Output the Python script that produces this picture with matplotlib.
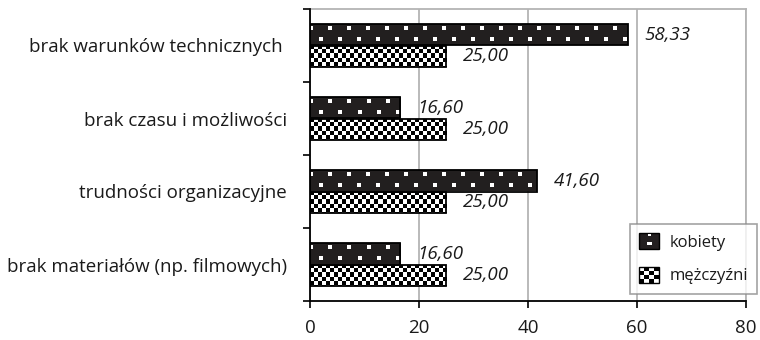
import numpy as np
import matplotlib
matplotlib.use("Agg")
import matplotlib.pyplot as plt
from matplotlib.patches import Rectangle
from matplotlib.legend_handler import HandlerBase

plt.rcParams['font.family'] = ['Open Sans', 'DejaVu Sans']

# survey answers, percent of respondents
categories = [
    "brak warunków technicznych ",
    "brak czasu i możliwości",
    "trudności organizacyjne",
    "brak materiałów (np. filmowych)",
]
kobiety = [58.33, 16.60, 41.60, 16.60]
mezczyzni = [25.00, 25.00, 25.00, 25.00]
series_names = ["kobiety", "mężczyźni"]
x_ticks = [0, 20, 40, 60, 80]

DARK = (0.137, 0.122, 0.125)
BAR_H = 0.29

fig = plt.figure(figsize=(7.6, 3.4), dpi=100)
ax = fig.add_axes([310 / 760, 1 - 301 / 340, 436 / 760, 292 / 340])
ax.set_xlim(0, 80)
ax.set_ylim(len(categories) - 0.5, -0.5)

px_x = ax.bbox.width / 80
px_y = ax.bbox.height / len(categories)


def dots_texture(h, w):
    img = np.empty((h, w, 3))
    img[:] = DARK
    for x in range(-1, w, 19):
        img[3:7, max(x, 0):max(x + 4, 0)] = 1.0
    for x in range(9, w, 19):
        img[13:17, x:x + 4] = 1.0
    return img


def checker_texture(h, w, cell=4):
    yy, xx = np.mgrid[0:h, 0:w]
    on = ((yy // cell + xx // cell) % 2) == 0
    img = np.ones((h, w, 3))
    img[on] = 0.0
    return img


def textured_bar(y0, y1, val, texture):
    rect = ax.barh((y0 + y1) / 2, val, height=y1 - y0, color='none',
                   edgecolor='black', linewidth=1.3, zorder=4)[0]
    h_px = max(int(round((y1 - y0) * px_y)), 1)
    w_px = max(int(round(val * px_x)), 1)
    im = ax.imshow(texture(h_px, w_px), extent=(0, val, y1, y0),
                   interpolation='nearest', aspect='auto', zorder=3)
    im.set_clip_path(rect)
    return rect


for i, (k, m) in enumerate(zip(kobiety, mezczyzni)):
    textured_bar(i - BAR_H, i, k, dots_texture)
    textured_bar(i, i + BAR_H, m, checker_texture)

    for val, yc in ((k, i - BAR_H / 2), (m, i + BAR_H / 2)):
        ax.annotate(f"{val:.2f}".replace('.', ','), (val, yc),
                    xytext=(12, 0), textcoords='offset points',
                    va='center', ha='left', fontsize=13.5,
                    style='italic', color='#1a1a1a', zorder=5)

ax.set_xlim(0, 80)
ax.set_ylim(len(categories) - 0.5, -0.5)

# category boundaries get the visible ticks, names sit between them
ax.set_yticks(np.arange(-0.5, len(categories), 1.0))
ax.set_yticklabels([])
ax.set_yticks(range(len(categories)), minor=True)
ax.set_yticklabels(categories, minor=True, fontsize=13.5, color='#1a1a1a')
ax.tick_params(axis='y', which='major', direction='out', length=5, width=1.2)
ax.tick_params(axis='y', which='minor', length=0, pad=16.5)

ax.set_xticks(x_ticks)
ax.set_xticklabels([str(t) for t in x_ticks], fontsize=13.5, color='#1a1a1a')
ax.tick_params(axis='x', direction='out', length=5, width=1.2, pad=8)

ax.grid(axis='x', color='#b4b4b4', linewidth=1.3, zorder=0)
ax.set_axisbelow(True)
for side in ('top', 'right'):
    ax.spines[side].set_color('#b4b4b4')
    ax.spines[side].set_linewidth(1.3)
for side in ('left', 'bottom'):
    ax.spines[side].set_color('black')
    ax.spines[side].set_linewidth(1.3)
    ax.spines[side].set_zorder(6)


class TextureHandler(HandlerBase):
    def __init__(self, kind):
        super().__init__()
        self.kind = kind

    def create_artists(self, legend, orig_handle, xdescent, ydescent,
                       width, height, fontsize, trans):
        x0, y0 = -xdescent, -ydescent
        arts = []
        if self.kind == 'dots':
            arts.append(Rectangle((x0, y0), width, height, facecolor=DARK,
                                  edgecolor='black', lw=1, transform=trans))
            arts.append(Rectangle((x0 + width * 0.4, y0 + height * 0.25),
                                  width * 0.22, height * 0.22,
                                  facecolor='white', edgecolor='none', transform=trans))
            arts.append(Rectangle((x0 + width * 0.44, y0 + height * 0.8),
                                  width * 0.14, height * 0.12,
                                  facecolor='white', edgecolor='none', transform=trans))
        else:
            n = 4
            cw, ch = width / n, height / n
            arts.append(Rectangle((x0, y0), width, height, facecolor='white',
                                  edgecolor='none', transform=trans))
            for r in range(n):
                for c in range(n):
                    if (r + c) % 2 == 0:
                        arts.append(Rectangle((x0 + c * cw, y0 + r * ch), cw, ch,
                                              facecolor='black', edgecolor='none',
                                              transform=trans))
            arts.append(Rectangle((x0, y0), width, height, facecolor='none',
                                  edgecolor='black', lw=1, transform=trans))
        return arts


h_dots = Rectangle((0, 0), 1, 1)
h_check = Rectangle((0, 0), 1, 1)
leg = fig.legend([h_dots, h_check], series_names,
                 handler_map={h_dots: TextureHandler('dots'),
                              h_check: TextureHandler('checker')},
                 loc='upper left', bbox_to_anchor=(630 / 760, 1 - 224 / 340),
                 bbox_transform=fig.transFigure, borderaxespad=0,
                 fontsize=12, frameon=True, fancybox=False,
                 handlelength=1.2, handleheight=1.1, handletextpad=0.6,
                 labelspacing=0.95, borderpad=0.55)
leg.get_frame().set_edgecolor('#8c8c8c')
leg.get_frame().set_linewidth(1.2)
leg.set_zorder(10)
for t in leg.get_texts():
    t.set_color('#1a1a1a')

fig.savefig("out.png", dpi=100)
